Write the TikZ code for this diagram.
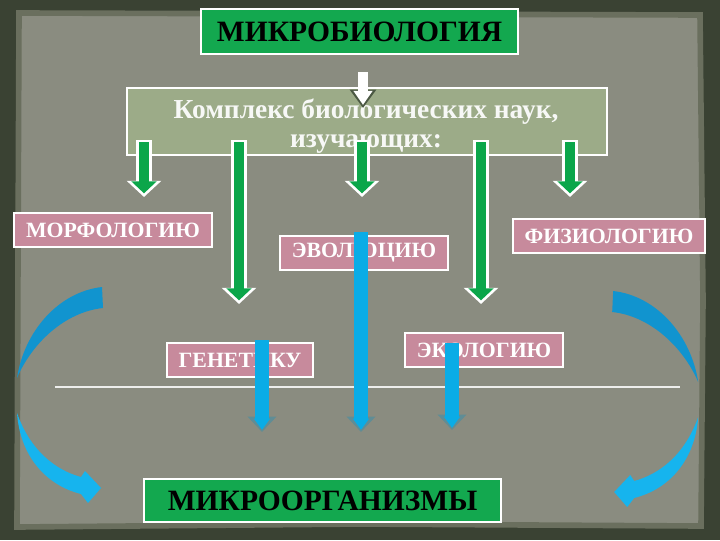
\documentclass[tikz,border=0pt]{standalone}
\usepackage{fontspec}
\setmainfont{Liberation Serif}
\usetikzlibrary{arrows.meta,positioning}
\definecolor{paper}{HTML}{8A8C80}
\definecolor{paperedge}{HTML}{6A6F5E}
\definecolor{frame}{HTML}{3A4233}
\definecolor{leaf}{HTML}{13A84F}
\definecolor{sage}{HTML}{9CAB88}
\definecolor{rose}{HTML}{C78A9C}
\definecolor{sky}{HTML}{0AACE6}
\definecolor{skydark}{HTML}{1194CF}
\definecolor{skylight}{HTML}{16B4EE}
\definecolor{skyhead}{HTML}{5F8D96}
\definecolor{arrowgreen}{HTML}{0BA64A}
\definecolor{olive}{HTML}{4B5843}
\tikzset{>=latex}
\tikzstyle{titlebox}=[rectangle,draw=white,fill=leaf,line width=1.4pt,inner sep=0pt,font=\fontsize{21}{24}\selectfont\bfseries]
\tikzstyle{topicbox}=[rectangle,draw=white,fill=rose,line width=1.2pt,inner sep=0pt,minimum height=0.85cm,text=white,font=\fontsize{15.5}{18}\selectfont\bfseries]
\tikzstyle{greenout}=[white,line width=12pt,-{Triangle[length=11.5pt,width=24pt]}]
\tikzstyle{greenin}=[arrowgreen,line width=7.5pt,shorten <=1.5pt,shorten >=2.6pt,-{Triangle[length=8.5pt,width=17.5pt]}]
\tikzstyle{blueout}=[skyhead,line width=10pt,-{Triangle[length=11pt,width=20pt]}]
\tikzstyle{bluein}=[sky,line width=10pt,shorten >=1.5pt,-{Triangle[length=8pt,width=11pt]}]
\newcommand{\sidearrows}{%
	\fill[skydark] (102,287) -- (103,308) .. controls (65,312) and (32,343) .. (17,378)
		.. controls (24,332) and (58,292) .. (102,287) -- cycle;
	\fill[skylight] (17,413) .. controls (20,455) and (45,485) .. (81,494) -- (88,503) -- (101,488)
		-- (85,471) -- (81,477) .. controls (55,470) and (30,450) .. (17,413) -- cycle;
}

\begin{document}
\begin{tikzpicture}[x=0.025cm,y=-0.025cm]
	\useasboundingbox (0,0) rectangle (720,540);
	\fill[frame] (0,0) rectangle (720,540);
	\fill[paper,draw=paperedge,line width=4pt] (19,13) -- (700,15) -- (703,300) -- (701,526) -- (360,524) -- (17,527) -- (18,260) -- cycle;
	\draw[white!85!paper,line width=1pt] (55,387) -- (680,387);
	
	\node[titlebox, minimum width=7.93cm, minimum height=1.12cm] (biology) at (359.5, 31.5) {МИКРОБИОЛОГИЯ};
	\node[rectangle, draw=white, fill=sage, line width=1.2pt, minimum width=12cm, minimum height=1.68cm] (complex) at (367, 121.5) {};
	\node[align=center, text=white!92!sage, font=\fontsize{19.5}{21}\selectfont\bfseries] (complextext) at (366, 126) {Комплекс биологических наук,\\изучающих:};
	
	\node[topicbox, minimum width=4.95cm] (morph) at (113, 230) {МОРФОЛОГИЮ};
	\node[topicbox, minimum width=4.2cm] (evol) at (364, 253) {ЭВОЛЮЦИЮ};
	\node[topicbox, minimum width=4.8cm] (phys) at (609, 236) {ФИЗИОЛОГИЮ};
	\node[topicbox, minimum width=3.65cm] (genet) at (240, 360) {ГЕНЕТИКУ};
	\node[topicbox, minimum width=3.95cm] (ecol) at (484, 350) {ЭКОЛОГИЮ};
	
	\node[titlebox, minimum width=8.93cm, minimum height=1.08cm, font=\fontsize{21}{24}\selectfont\bfseries] (micro) at (322.5, 500.5) {МИКРООРГАНИЗМЫ};
	
	\coordinate (top1) at (363, 72);
	\coordinate (top2) at (363, 108);
	\draw[olive, line width=7pt, -{Triangle[length=13pt,width=18pt]}] (top1) -- (top2);
	\draw[white, line width=7pt, shorten >=2.2pt, -{Triangle[length=10pt,width=13pt]}] (top1) -- (top2);
	
	\foreach \x/\y [count=\i] in {144/197, 239/304, 362/197, 481/304, 570/197} {
		\coordinate (gs\i) at (\x, 140);
		\coordinate (ge\i) at (\x, \y);
		\draw[greenout] (gs\i) -- (ge\i);
		\draw[greenin] (gs\i) -- (ge\i);
	}
	
	\foreach \x/\a/\b [count=\i] in {262/340/432, 361/232/432, 452/343/430} {
		\coordinate (bs\i) at (\x, \a);
		\coordinate (be\i) at (\x, \b);
		\draw[blueout] (bs\i) -- (be\i);
		\draw[bluein] (bs\i) -- (be\i);
	}
	
	\sidearrows
	\begin{scope}[xshift=17.875cm, xscale=-1, yshift=-0.1cm]
		\sidearrows
	\end{scope}
\end{tikzpicture}
\end{document}
